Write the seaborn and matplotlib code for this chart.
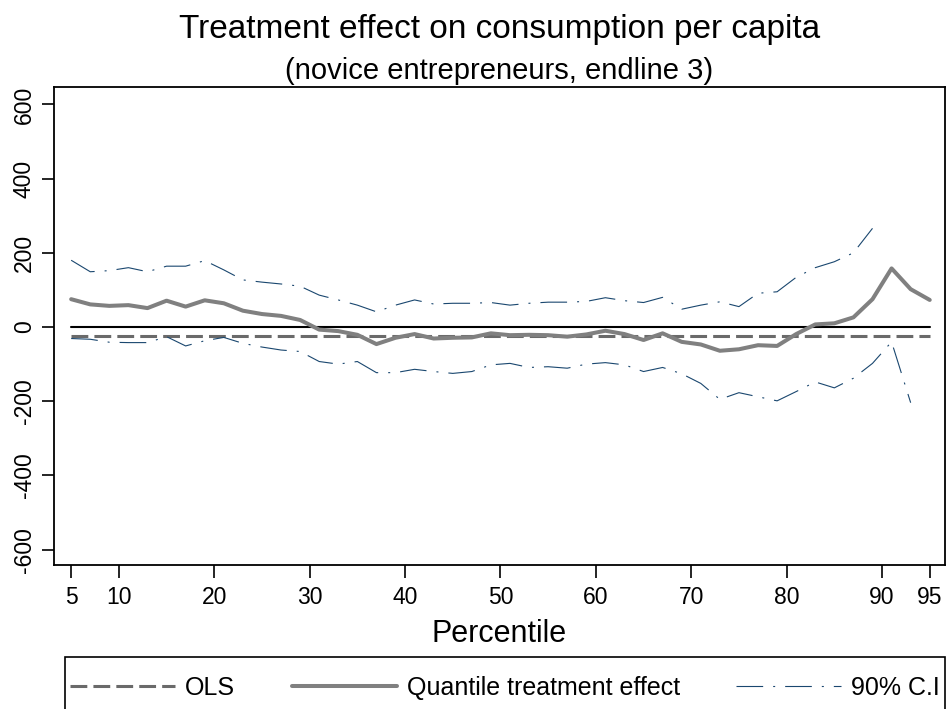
import numpy as np
import pandas as pd
import matplotlib
matplotlib.use("Agg")
import matplotlib.pyplot as plt
from matplotlib.patches import Rectangle
import seaborn as sns

# Quantile treatment effects by percentile (5th to 95th, step 2)
percentiles = list(range(5, 96, 2))
qte = [75, 61, 57, 59, 51, 71, 55, 72, 64, 44,
       35, 30, 19, -7, -11, -21, -46, -29, -19, -31,
       -29, -28, -17, -22, -21, -22, -26, -20, -10, -19,
       -35, -17, -40, -47, -64, -60, -49, -51, -19, 7,
       10, 26, 75, 158, 102, 73]
ci_upper = [180, 149, 152, 160, 149, 164, 164, 179, 154, 127,
            121, 116, 110, 86, 73, 59, 41, 59, 73, 62,
            64, 64, 66, 59, 64, 67, 67, 69, 79, 71,
            66, 80, 48, 59, 68, 55, 91, 95, 134, 160,
            176, 200, 266, np.nan, np.nan, np.nan]
ci_lower = [-31, -33, -41, -42, -42, -26, -51, -37, -28, -44,
            -54, -62, -66, -93, -100, -93, -123, -123, -114, -120,
            -125, -120, -102, -98, -109, -107, -111, -100, -96, -102,
            -120, -109, -126, -152, -195, -177, -188, -199, -174, -148,
            -164, -138, -98, -40, -204, np.nan]
ols_effect = -25
xticks = [5, 10, 20, 30, 40, 50, 60, 70, 80, 90, 95]
yticks = [-600, -400, -200, 0, 200, 400, 600]

df = pd.DataFrame({
    "percentile": percentiles,
    "qte": qte,
    "upper": ci_upper,
    "lower": ci_lower,
    "ols": [ols_effect] * len(percentiles),
    "zero": [0] * len(percentiles),
})

sns.set_theme(style="white")
plt.rcParams["font.family"] = ["Liberation Sans", "DejaVu Sans"]
plt.rcParams["text.color"] = "black"
plt.rcParams["axes.labelcolor"] = "black"
plt.rcParams["xtick.color"] = "black"
plt.rcParams["ytick.color"] = "black"

W, H = 948, 709
fig = plt.figure(figsize=(W / 100, H / 100), dpi=100)
ax = fig.add_axes([54 / W, 1 - 565 / H, (945 - 54) / W, (565 - 87) / H])

navy = "#1a476f"
ci_dash = (0, (24, 9, 1.8, 9))

sns.lineplot(data=df, x="percentile", y="zero", ax=ax, color="black",
             linewidth=1.5, estimator=None, sort=False)
sns.lineplot(data=df, x="percentile", y="ols", ax=ax, color="#6a6a6a",
             linewidth=2.2, estimator=None, sort=False)
ax.lines[-1].set_linestyle((0, (5.5, 2.0)))
sns.lineplot(data=df.dropna(subset=["upper"]), x="percentile", y="upper",
             ax=ax, color=navy, linewidth=0.8, estimator=None, sort=False)
ax.lines[-1].set_linestyle(ci_dash)
sns.lineplot(data=df.dropna(subset=["lower"]), x="percentile", y="lower",
             ax=ax, color=navy, linewidth=0.8, estimator=None, sort=False)
ax.lines[-1].set_linestyle(ci_dash)
sns.lineplot(data=df, x="percentile", y="qte", ax=ax, color="#808080",
             linewidth=2.9, estimator=None, sort=False)

line_zero, line_ols, line_up, line_lo, line_qte = ax.lines[:5]

ax.set_xlim(3.2, 96.6)
ax.set_ylim(-641.5, 647)
ax.set_xticks(xticks)
ax.set_xticklabels([str(t) for t in xticks])
ax.set_yticks(yticks)
ax.set_yticklabels([str(t) for t in yticks], rotation=90, va="center")
ax.set_xlabel("")
ax.set_ylabel("")
ax.tick_params(axis="both", which="major", bottom=True, left=True,
               top=False, right=False, direction="out", length=9,
               width=1.2, color="black", labelsize=16.5,
               labelcolor="black", pad=4)
ax.tick_params(axis="x", pad=6)
for side in ["left", "right", "top", "bottom"]:
    ax.spines[side].set_visible(True)
    ax.spines[side].set_color("black")
    ax.spines[side].set_linewidth(1.3)

cx = (54 + 945) / 2 / W
fig.text(cx, 1 - 38 / H, "Treatment effect on consumption per capita",
         ha="center", va="baseline", fontsize=24, color="black")
fig.text(cx, 1 - 79 / H, "(novice entrepreneurs, endline 3)",
         ha="center", va="baseline", fontsize=21, color="black")
fig.text(cx, 1 - 642 / H, "Percentile", ha="center", va="baseline",
         fontsize=22, color="black")

leg = fig.legend([line_ols, line_qte, line_up],
                 ["OLS", "Quantile treatment effect", "90% C.I"],
                 ncol=3, mode="expand", loc="center",
                 bbox_to_anchor=(70 / W, 1 - 700 / H, 870 / W, 24 / H),
                 frameon=False, fontsize=18, handlelength=4.2,
                 handletextpad=0.4, borderpad=0, borderaxespad=0,
                 columnspacing=1.0, labelcolor="black")
fig.add_artist(Rectangle((65 / W, -0.05), 880 / W, (1 - 657 / H) + 0.05,
                         transform=fig.transFigure, fill=False,
                         edgecolor="black", linewidth=1.2, clip_on=False))

fig.savefig("out.png", dpi=100, facecolor="white")
